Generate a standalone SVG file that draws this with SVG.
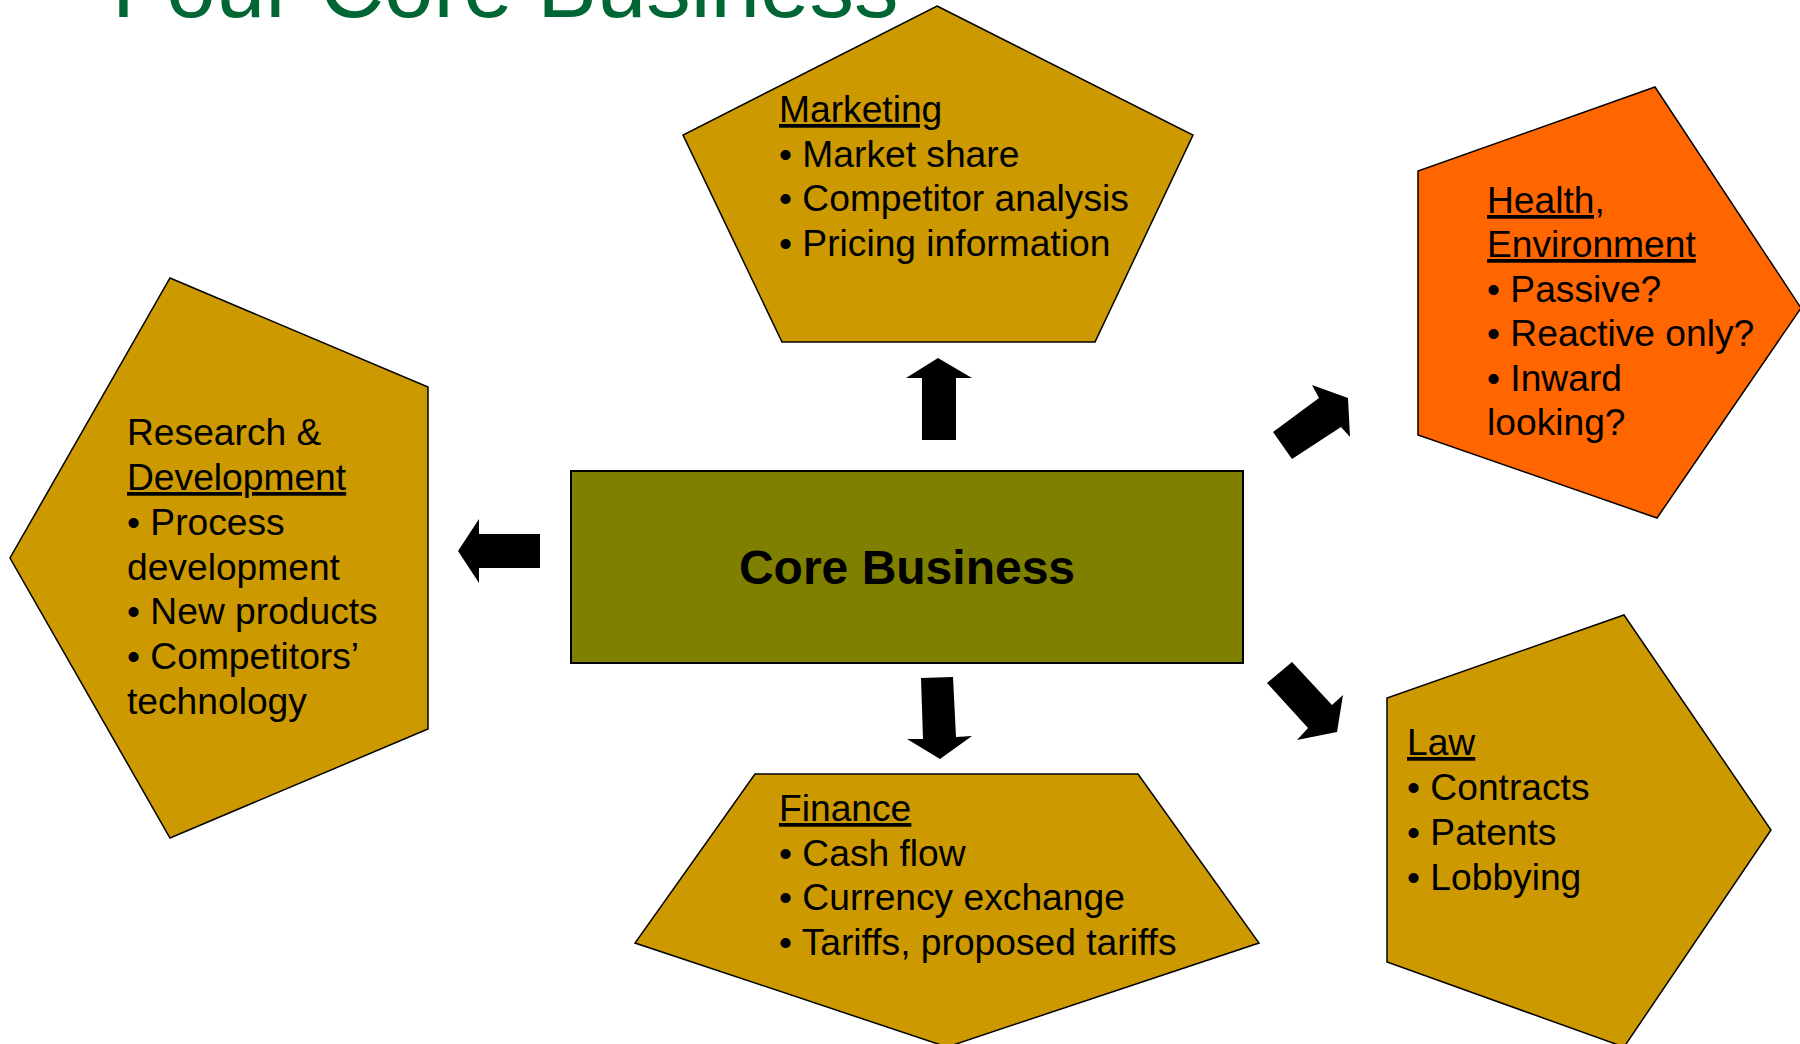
<svg xmlns="http://www.w3.org/2000/svg" width="1800" height="1044" viewBox="0 0 1800 1044">
<style>
.pent{fill:#CC9900;stroke:#000;stroke-width:1.5;stroke-linejoin:miter}
.orange{fill:#FF6600}
.t{font-family:"Liberation Sans",Arial,sans-serif;font-size:37.2px;fill:#000}
.u{text-decoration:underline}
.title{font-family:"Liberation Sans",Arial,sans-serif;font-size:89px;fill:#006633}
.core{font-family:"Liberation Sans",Arial,sans-serif;font-size:48px;font-weight:bold;fill:#000}
.arrow{fill:#000;stroke:none}
</style>
<rect width="1800" height="1044" fill="#fff"/>
<text class="title" x="112" y="17">Four Core Business</text>

<g id="marketing">
<polygon class="pent" points="937,6 1193,135 1095,342 782,342 683,135"/>
<text class="t" x="779" y="122"><tspan class="u">Marketing</tspan></text>
<text class="t" x="779" y="167">• Market share</text>
<text class="t" x="779" y="211">• Competitor analysis</text>
<text class="t" x="779" y="256">• Pricing information</text>
</g>

<g id="health">
<polygon class="pent orange" points="1655,87 1801,308 1657,518 1418,435 1418,171"/>
<text class="t" x="1487" y="213"><tspan class="u">Health,</tspan></text>
<text class="t" x="1487" y="257"><tspan class="u">Environment</tspan></text>
<text class="t" x="1487" y="302">• Passive?</text>
<text class="t" x="1487" y="346">• Reactive only?</text>
<text class="t" x="1487" y="391">• Inward</text>
<text class="t" x="1487" y="435">looking?</text>
</g>

<g id="research">
<polygon class="pent" points="170,278 428,387 428,729 170,838 10,558"/>
<text class="t" x="127" y="445">Research &amp;</text>
<text class="t" x="127" y="490"><tspan class="u">Development</tspan></text>
<text class="t" x="127" y="535">• Process</text>
<text class="t" x="127" y="580">development</text>
<text class="t" x="127" y="624">• New products</text>
<text class="t" x="127" y="669">• Competitors’</text>
<text class="t" x="127" y="714">technology</text>
</g>

<g id="core">
<rect x="571" y="471" width="672" height="192" fill="#808000" stroke="#000" stroke-width="2"/>
<text class="core" x="907" y="584" text-anchor="middle">Core Business</text>
</g>

<g id="finance">
<polygon class="pent" points="755,774 1138,774 1259,943 947,1047 635,943"/>
<text class="t" x="779" y="821"><tspan class="u">Finance</tspan></text>
<text class="t" x="779" y="866">• Cash flow</text>
<text class="t" x="779" y="910">• Currency exchange</text>
<text class="t" x="779" y="955">• Tariffs, proposed tariffs</text>
</g>

<g id="law">
<polygon class="pent" points="1624,615 1771,830 1624,1047 1387,962 1387,698"/>
<text class="t" x="1407" y="755"><tspan class="u">Law</tspan></text>
<text class="t" x="1407" y="800">• Contracts</text>
<text class="t" x="1407" y="845">• Patents</text>
<text class="t" x="1407" y="890">• Lobbying</text>
</g>

<g id="connectors">
<polygon class="arrow" points="938,358 972,378 956,378 956,440 922,440 922,378 906,378"/>
<polygon class="arrow" points="458,551 479,519 479,534 540,534 540,568 479,568 479,583"/>
<polygon class="arrow" points="921,678 953,677 956,737 972,736 940,759 907,739 923,739"/>
<polygon class="arrow" points="1273,432 1319,398 1312,385 1348,398 1350,437 1341,427 1292,459"/>
<polygon class="arrow" points="1267,683 1292,662 1332,705 1343,695 1337,732 1297,740 1308,728"/>
</g>
</svg>
